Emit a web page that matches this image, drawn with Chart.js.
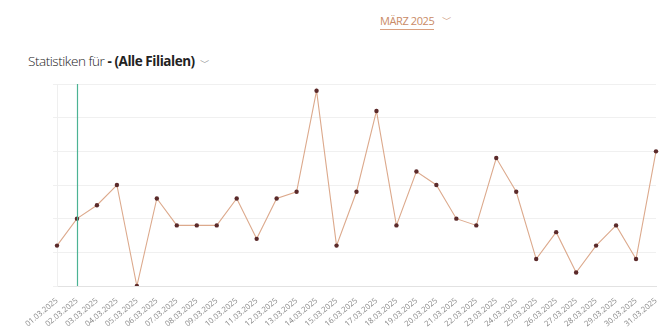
<!DOCTYPE html>
<html lang="de">
<head>
<meta charset="utf-8">
<title>Statistiken März 2025</title>
<script src="https://cdn.jsdelivr.net/npm/chart.js@4/dist/chart.umd.min.js"></script>
<style>
    html, body { margin: 0; padding: 0; background: #fff; }
    body { width: 670px; height: 330px; position: relative; overflow: hidden; font-family: "Open Sans", sans-serif; }
    .month {
        position: absolute; left: 380px; top: 13px;
        font-size: 11px; font-weight: 400; color: #c98a66; letter-spacing: -0.4px;
        border-bottom: 1px solid #d9a080; padding-bottom: 1px; line-height: 15px;
    }
    .month-caret { position: absolute; left: 442px; top: 12px; font-size: 10px; color: #c98a66; }
    .title {
        position: absolute; left: 28px; top: 52px;
        font-size: 13.5px; color: #222; letter-spacing: -0.45px; line-height: 18px;
    }
    .title .light { font-weight: 300; }
    .title b { font-weight: 700; }
    .title .caret { color: #888; font-size: 10px; margin-left: 5px; }
    .chart-box { position: absolute; left: 0; top: 80px; width: 670px; height: 250px; }
</style>
</head>
<body>
<div class="month">MÄRZ 2025</div>
<div class="month-caret">﹀</div>
<div class="title"><span class="light">Statistiken für</span> <b>- (Alle Filialen)</b><span class="caret">﹀</span></div>
<div class="chart-box"><canvas id="chart"></canvas></div>

<script>
// --- Data ---
const days = [
    '01.03.2025', '02.03.2025', '03.03.2025', '04.03.2025', '05.03.2025', '06.03.2025',
    '07.03.2025', '08.03.2025', '09.03.2025', '10.03.2025', '11.03.2025', '12.03.2025',
    '13.03.2025', '14.03.2025', '15.03.2025', '16.03.2025', '17.03.2025', '18.03.2025',
    '19.03.2025', '20.03.2025', '21.03.2025', '22.03.2025', '23.03.2025', '24.03.2025',
    '25.03.2025', '26.03.2025', '27.03.2025', '28.03.2025', '29.03.2025', '30.03.2025',
    '31.03.2025'
];
const counts = [6, 10, 12, 15, 0, 13, 9, 9, 9, 13, 7, 13, 14, 29, 6, 14, 26, 9, 17, 15, 10, 9, 19, 14, 4, 8, 2, 6, 9, 4, 20];
const yMax = 30;
const yStep = 5;
const markedDay = '02.03.2025';

// vertical marker line at the selected day
const markerLine = {
    id: 'markerLine',
    afterDatasetsDraw(chart) {
        const { ctx, chartArea, scales } = chart;
        const x = Math.round(scales.x.getPixelForValue(days.indexOf(markedDay))) + 0.5;
        ctx.save();
        ctx.strokeStyle = '#4cb394';
        ctx.lineWidth = 1.2;
        ctx.beginPath();
        ctx.moveTo(x, chartArea.top);
        ctx.lineTo(x, chartArea.bottom);
        ctx.stroke();
        ctx.restore();
    }
};

new Chart(document.getElementById('chart').getContext('2d'), {
    type: 'line',
    data: {
        labels: days,
        datasets: [{
            data: counts,
            borderColor: '#dca98c',
            borderWidth: 1.1,
            tension: 0,
            pointRadius: 2.2,
            pointBackgroundColor: '#5b2a2a',
            pointBorderColor: '#5b2a2a',
            pointBorderWidth: 0
        }]
    },
    options: {
        responsive: true,
        maintainAspectRatio: false,
        animation: false,
        layout: { padding: { top: 4, right: 14, left: 0, bottom: 0 } },
        plugins: { legend: { display: false }, tooltip: { enabled: false } },
        scales: {
            x: {
                offset: false,
                grid: { display: false },
                border: { color: '#e2e2e2' },
                ticks: {
                    autoSkip: false,
                    minRotation: 40,
                    maxRotation: 40,
                    padding: 2,
                    color: '#888888',
                    font: { family: 'Open Sans', size: 7.8 }
                },
                afterFit(scale) { scale.height = 44; }
            },
            y: {
                min: 0,
                max: yMax,
                ticks: { display: false, stepSize: yStep },
                grid: { color: '#f0f0f0', tickLength: 4 },
                border: { color: '#efefef' },
                afterFit(scale) { scale.width = 57; }
            }
        }
    },
    plugins: [markerLine]
});
</script>
</body>
</html>
